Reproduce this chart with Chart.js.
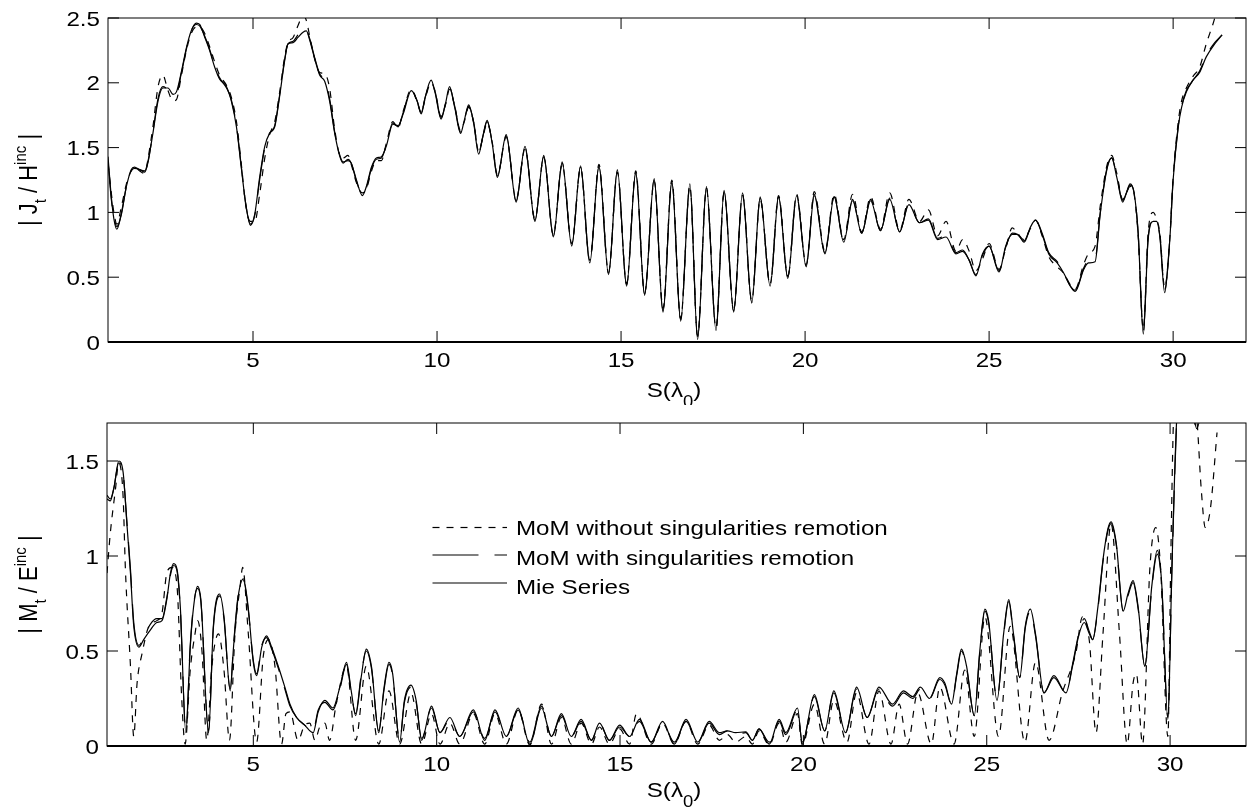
<!DOCTYPE html>
<html>
<head>
<meta charset="utf-8">
<script src="https://cdn.jsdelivr.net/npm/chart.js@4.4.1/dist/chart.umd.min.js"></script>
<style>
  body { margin: 0; background: #fff; }
  canvas { display: block; }
</style>
</head>
<body>
<canvas id="topChart" width="1250" height="405"></canvas>
<canvas id="botChart" width="1250" height="406"></canvas>
<script>
var SERIES = ["MoM without singularities remotion", "MoM with singularities remotion", "Mie Series"]
var X_TICKS = [5, 10, 15, 20, 25, 30]
var TOP_Y_TICKS = [0, 0.5, 1, 1.5, 2, 2.5]
var BOT_Y_TICKS = [0, 0.5, 1, 1.5]

// upper plot |Jt / Hinc|, all three curves share the same S samples
var topS = [
  1.06,1.15,1.22,1.30,1.42,1.56,1.69,1.78,1.92,2.06,
  2.15,2.28,2.42,2.55,2.69,2.83,2.92,3.05,3.19,3.32,
  3.46,3.55,3.69,3.82,3.96,4.09,4.28,4.41,4.55,4.68,
  4.80,4.93,5.05,5.18,5.32,5.45,5.59,5.72,5.86,5.95,
  6.09,6.22,6.36,6.45,6.54,6.68,6.81,6.95,7.08,7.22,
  7.36,7.45,7.58,7.67,7.81,7.97,8.08,8.22,8.35,8.49,
  8.62,8.80,8.94,9.08,9.30,9.46,9.57,9.68,9.84,9.95,
  10.11,10.23,10.34,10.48,10.64,10.74,10.86,11.00,11.13,11.24,
  11.36,11.50,11.64,11.88,12.15,12.39,12.66,12.90,13.16,13.40,
  13.66,13.90,14.15,14.40,14.66,14.90,15.15,15.40,15.64,15.90,
  16.14,16.38,16.62,16.87,17.08,17.32,17.58,17.80,18.06,18.30,
  18.55,18.78,19.05,19.28,19.53,19.77,20.03,20.25,20.54,20.79,
  21.05,21.29,21.54,21.78,22.05,22.30,22.57,22.82,23.11,23.35,
  23.60,23.83,24.10,24.28,24.46,24.64,24.82,25.00,25.27,25.45,
  25.63,25.77,25.95,26.13,26.26,26.44,26.62,26.85,27.03,27.21,
  27.34,27.57,27.70,27.88,28.02,28.20,28.33,28.47,28.63,28.73,
  28.83,28.94,29.05,29.19,29.32,29.46,29.55,29.64,29.77,29.91,
  30.00,30.14,30.23,30.36,30.54,30.72,30.90,31.13,31.33
]
var topMie = [
  1.43,1.12,0.95,0.87,0.99,1.20,1.33,1.35,1.33,1.32,
  1.40,1.61,1.86,1.96,1.96,1.91,1.93,2.08,2.27,2.40,
  2.46,2.45,2.35,2.25,2.12,2.03,1.97,1.86,1.66,1.35,
  1.07,0.90,0.99,1.27,1.51,1.61,1.66,1.89,2.17,2.30,
  2.31,2.35,2.39,2.40,2.33,2.18,2.06,2.01,1.86,1.61,
  1.43,1.38,1.41,1.38,1.25,1.13,1.20,1.35,1.42,1.43,
  1.51,1.68,1.67,1.76,1.94,1.86,1.76,1.89,2.02,1.92,
  1.72,1.84,1.97,1.81,1.61,1.71,1.83,1.68,1.45,1.58,
  1.71,1.53,1.27,1.60,1.08,1.51,0.93,1.44,0.81,1.39,
  0.74,1.36,0.61,1.36,0.52,1.33,0.43,1.31,0.36,1.26,
  0.23,1.24,0.16,1.22,0.02,1.20,0.09,1.17,0.23,1.15,
  0.30,1.12,0.43,1.12,0.49,1.13,0.58,1.13,0.68,1.12,
  0.77,1.09,0.84,1.09,0.86,1.10,0.85,1.06,0.92,0.94,
  0.79,0.81,0.68,0.70,0.63,0.51,0.68,0.74,0.54,0.74,
  0.83,0.83,0.77,0.89,0.94,0.83,0.68,0.61,0.53,0.43,
  0.39,0.56,0.61,0.62,0.99,1.33,1.42,1.27,1.08,1.15,
  1.22,1.15,0.84,0.06,0.79,0.93,0.93,0.81,0.38,0.79,
  1.25,1.66,1.81,1.93,2.02,2.08,2.20,2.30,2.37
]
var topWith = [
  1.40,1.10,0.97,0.89,0.98,1.20,1.32,1.34,1.33,1.31,
  1.39,1.62,1.88,1.97,1.95,1.92,1.92,2.07,2.26,2.40,
  2.45,2.44,2.36,2.26,2.13,2.04,1.96,1.87,1.67,1.36,
  1.07,0.91,0.98,1.25,1.50,1.61,1.67,1.90,2.18,2.30,
  2.32,2.37,2.42,2.41,2.34,2.19,2.07,2.02,1.88,1.62,
  1.44,1.39,1.40,1.38,1.24,1.14,1.19,1.34,1.41,1.42,
  1.52,1.69,1.66,1.77,1.95,1.86,1.77,1.89,2.01,1.93,
  1.73,1.84,1.96,1.82,1.62,1.71,1.82,1.69,1.46,1.58,
  1.70,1.54,1.28,1.59,1.09,1.50,0.94,1.43,0.82,1.38,
  0.75,1.35,0.62,1.35,0.53,1.32,0.44,1.30,0.37,1.25,
  0.24,1.23,0.17,1.21,0.04,1.19,0.10,1.16,0.24,1.14,
  0.31,1.11,0.44,1.12,0.50,1.13,0.59,1.14,0.69,1.12,
  0.78,1.10,0.84,1.10,0.86,1.11,0.85,1.07,0.92,0.95,
  0.80,0.82,0.69,0.71,0.63,0.52,0.67,0.74,0.55,0.73,
  0.84,0.83,0.78,0.89,0.94,0.84,0.69,0.62,0.53,0.43,
  0.40,0.57,0.63,0.64,1.00,1.34,1.42,1.28,1.09,1.15,
  1.21,1.15,0.84,0.08,0.80,0.94,0.93,0.82,0.40,0.80,
  1.26,1.67,1.82,1.94,2.02,2.09,2.21,2.31,2.37
]
var topWithout = [
  1.38,1.15,1.00,0.91,1.04,1.22,1.32,1.35,1.32,1.30,
  1.42,1.66,1.97,2.06,1.94,1.86,1.87,2.05,2.25,2.38,
  2.43,2.43,2.38,2.28,2.16,2.06,1.98,1.89,1.70,1.38,
  1.06,0.93,0.93,1.14,1.42,1.60,1.70,1.92,2.20,2.31,
  2.35,2.44,2.52,2.48,2.36,2.18,2.08,2.07,1.96,1.64,
  1.44,1.42,1.44,1.37,1.23,1.15,1.18,1.32,1.40,1.40,
  1.53,1.70,1.65,1.78,1.95,1.85,1.77,1.88,2.00,1.93,
  1.74,1.83,1.95,1.82,1.63,1.70,1.81,1.69,1.47,1.57,
  1.69,1.54,1.29,1.58,1.10,1.49,0.95,1.42,0.83,1.37,
  0.76,1.34,0.63,1.37,0.54,1.31,0.45,1.32,0.38,1.24,
  0.26,1.25,0.18,1.20,0.05,1.18,0.11,1.15,0.25,1.13,
  0.32,1.10,0.45,1.13,0.51,1.14,0.60,1.16,0.70,1.14,
  0.79,1.14,0.85,1.12,0.87,1.15,0.86,1.10,0.93,1.02,
  0.82,0.93,0.70,0.79,0.70,0.55,0.64,0.76,0.56,0.72,
  0.88,0.84,0.79,0.88,0.94,0.82,0.66,0.58,0.53,0.44,
  0.41,0.60,0.68,0.74,1.05,1.36,1.44,1.30,1.10,1.15,
  1.20,1.14,0.82,0.10,0.84,1.00,0.95,0.84,0.42,0.80,
  1.27,1.70,1.86,1.96,2.05,2.12,2.30,2.50,2.75
]

// lower plot |Mt / Einc|, Mie and "with" share botS
var botS = [
  1.01,1.10,1.20,1.33,1.45,1.56,1.65,1.74,1.88,2.01,
  2.19,2.37,2.51,2.64,2.74,2.83,2.92,3.01,3.16,3.28,
  3.37,3.48,3.57,3.78,3.91,4.08,4.20,4.37,4.46,4.59,
  4.73,4.86,5.00,5.09,5.23,5.36,5.50,5.68,5.86,6.00,
  6.18,6.40,6.63,6.77,6.95,7.17,7.36,7.54,7.67,7.79,
  7.94,8.08,8.22,8.42,8.56,8.70,8.80,8.99,9.12,9.30,
  9.44,9.59,9.86,10.09,10.36,10.63,11.00,11.31,11.59,11.90,
  12.22,12.54,12.86,13.13,13.40,13.67,13.94,14.22,14.44,14.71,
  14.99,15.26,15.53,15.85,16.16,16.48,16.80,17.12,17.43,17.71,
  17.93,18.15,18.43,18.61,18.79,19.07,19.34,19.52,19.84,19.97,
  20.30,20.58,20.83,21.15,21.45,21.74,22.06,22.43,22.73,22.98,
  23.19,23.44,23.72,23.86,24.04,24.18,24.31,24.45,24.66,24.81,
  24.95,25.05,25.28,25.46,25.60,25.73,25.90,26.05,26.19,26.33,
  26.56,26.83,27.16,27.34,27.52,27.66,27.80,27.89,28.03,28.17,
  28.30,28.39,28.53,28.72,28.85,28.99,29.13,29.31,29.50,29.65,
  29.77,29.94,30.05,30.18,30.35,30.55,30.73,30.95,31.30
]
var botMie = [
  1.32,1.30,1.36,1.50,1.44,1.15,0.91,0.63,0.52,0.56,
  0.61,0.65,0.66,0.77,0.91,0.96,0.93,0.73,0.07,0.52,
  0.73,0.84,0.77,0.07,0.63,0.80,0.68,0.29,0.52,0.79,
  0.88,0.73,0.44,0.37,0.52,0.58,0.52,0.42,0.31,0.22,
  0.15,0.11,0.07,0.18,0.24,0.20,0.31,0.44,0.29,0.16,
  0.36,0.51,0.42,0.07,0.30,0.44,0.38,0.02,0.24,0.32,
  0.24,0.03,0.21,0.07,0.15,0.05,0.19,0.03,0.19,0.05,
  0.20,0.01,0.20,0.05,0.17,0.05,0.14,0.03,0.12,0.03,
  0.11,0.05,0.14,0.02,0.13,0.01,0.14,0.02,0.13,0.07,
  0.08,0.07,0.075,0.03,0.09,0.01,0.14,0.07,0.20,0.01,
  0.27,0.08,0.29,0.07,0.31,0.15,0.31,0.22,0.29,0.26,
  0.31,0.25,0.36,0.33,0.22,0.38,0.51,0.42,0.16,0.50,
  0.72,0.66,0.24,0.59,0.77,0.59,0.36,0.63,0.72,0.59,
  0.28,0.36,0.28,0.42,0.59,0.65,0.59,0.56,0.73,0.98,
  1.14,1.18,1.07,0.71,0.80,0.87,0.73,0.42,0.84,1.03,
  0.86,0.14,0.94,1.72,2.00,1.85,1.67,1.90,2.20
]
var botWith = [
  1.30,1.29,1.36,1.49,1.43,1.16,0.93,0.65,0.53,0.57,
  0.64,0.67,0.67,0.78,0.90,0.95,0.92,0.72,0.08,0.53,
  0.74,0.83,0.76,0.08,0.62,0.79,0.67,0.30,0.53,0.80,
  0.87,0.72,0.45,0.38,0.53,0.57,0.51,0.41,0.30,0.21,
  0.15,0.11,0.08,0.19,0.23,0.19,0.30,0.43,0.28,0.17,
  0.37,0.50,0.41,0.08,0.29,0.43,0.37,0.03,0.23,0.31,
  0.23,0.04,0.20,0.07,0.14,0.05,0.18,0.04,0.18,0.05,
  0.19,0.02,0.21,0.05,0.16,0.05,0.13,0.03,0.12,0.03,
  0.10,0.05,0.13,0.02,0.12,0.02,0.13,0.02,0.12,0.06,
  0.08,0.06,0.07,0.03,0.09,0.02,0.13,0.06,0.19,0.02,
  0.26,0.08,0.28,0.07,0.30,0.15,0.30,0.21,0.28,0.25,
  0.30,0.25,0.35,0.32,0.22,0.37,0.50,0.41,0.16,0.49,
  0.71,0.65,0.25,0.58,0.76,0.58,0.36,0.62,0.71,0.58,
  0.28,0.37,0.28,0.43,0.60,0.67,0.60,0.56,0.72,0.97,
  1.13,1.17,1.06,0.71,0.79,0.86,0.72,0.42,0.83,1.01,
  0.85,0.15,0.93,1.70,2.00,1.85,1.67,1.90,2.20
]
// "without" curve has its own sampling (extra zero dips)
var botWoS = [
  1.01,1.10,1.24,1.33,1.45,1.51,1.65,1.74,1.83,1.97,
  2.15,2.37,2.51,2.64,2.78,2.92,3.05,3.14,3.28,3.41,
  3.48,3.60,3.73,3.87,4.05,4.20,4.35,4.50,4.64,4.71,
  4.86,5.09,5.27,5.41,5.59,5.77,5.89,6.00,6.22,6.40,
  6.54,6.68,6.81,6.95,7.08,7.26,7.54,7.79,8.08,8.42,
  8.70,8.99,9.30,9.59,9.86,10.09,10.36,10.63,11.00,11.31,
  11.59,11.90,12.22,12.54,12.86,13.13,13.40,13.67,13.94,14.22,
  14.44,14.71,14.99,15.26,15.45,15.85,16.16,16.48,16.80,17.12,
  17.43,17.71,17.93,18.15,18.43,18.61,18.79,19.07,19.34,19.52,
  19.84,19.97,20.30,20.58,20.83,21.19,21.45,21.79,22.06,22.39,
  22.61,22.84,23.12,23.49,23.72,24.11,24.40,24.66,24.95,25.32,
  25.64,26.04,26.33,26.70,27.06,27.43,27.61,27.80,27.98,28.17,
  28.39,28.62,28.83,28.99,29.08,29.25,29.45,29.61,29.74,29.94,
  30.02,30.10,30.40,30.73,30.85,30.96,31.10,31.28
]
var botWithout = [
  0.91,1.12,1.35,1.49,1.31,0.94,0.42,0.05,0.33,0.49,
  0.63,0.66,0.70,0.91,0.94,0.84,0.24,0.01,0.40,0.59,
  0.66,0.50,0.03,0.42,0.59,0.40,0.03,0.59,0.84,0.94,
  0.60,0.02,0.47,0.56,0.42,0.01,0.17,0.18,0.03,0.11,
  0.12,0.03,0.10,0.12,0.03,0.22,0.42,0.03,0.42,0.01,
  0.29,0.01,0.28,0.01,0.17,0.01,0.12,0.01,0.17,0.01,
  0.17,0.01,0.19,0.005,0.22,0.01,0.15,0.01,0.12,0.01,
  0.10,0.01,0.09,0.01,0.17,0.01,0.12,0.01,0.13,0.01,
  0.11,0.03,0.06,0.02,0.05,0.01,0.08,0.005,0.12,0.02,
  0.17,0.005,0.22,0.01,0.24,0.02,0.28,0.01,0.29,0.01,
  0.22,0.01,0.28,0.01,0.31,0.01,0.40,0.05,0.68,0.05,
  0.63,0.02,0.44,0.03,0.28,0.49,0.68,0.55,0.07,0.59,
  1.17,0.59,0.01,0.33,0.38,0.01,0.94,1.15,0.94,0.05,
  1.00,1.75,2.10,1.72,1.35,1.15,1.25,1.65
]

var STRETCH = 1.15
var FONT = "'Liberation Sans', Arial, sans-serif"

function setFont(ctx, size) {
  ctx.font = size + "px " + FONT
}

function label(ctx, str, x, y, align) {
  ctx.save()
  ctx.translate(x, y)
  ctx.scale(STRETCH, 1)
  ctx.textAlign = align
  ctx.textBaseline = "alphabetic"
  ctx.fillText(str, 0, 0)
  ctx.restore()
}

// text made of pieces [text, size, baseline shift] for sub/superscripts
function drawParts(ctx, parts, x, y, vertical) {
  ctx.save()
  ctx.translate(x, y)
  ctx.scale(STRETCH, 1)
  if (vertical) ctx.rotate(-Math.PI / 2)
  var total = 0
  parts.forEach(function(p) { setFont(ctx, p[1]); total += ctx.measureText(p[0]).width })
  var pos = -total / 2
  ctx.textAlign = "left"
  ctx.textBaseline = "alphabetic"
  parts.forEach(function(p) {
    setFont(ctx, p[1])
    ctx.fillText(p[0], pos, p[2])
    pos += ctx.measureText(p[0]).width
  })
  ctx.restore()
}

var matlabAxes = {
  id: "matlabAxes",
  afterDraw: function(chart, args, opts) {
    var ctx = chart.ctx
    var a = chart.chartArea
    var xs = chart.scales.x
    var ys = chart.scales.y
    ctx.save()
    ctx.strokeStyle = "#000"
    ctx.fillStyle = "#000"
    ctx.setLineDash([])
    ctx.lineWidth = 1
    ctx.strokeRect(a.left, a.top, a.right - a.left, a.bottom - a.top)
    ctx.lineWidth = 2
    ctx.beginPath()
    ctx.moveTo(a.left, a.bottom)
    ctx.lineTo(a.right, a.bottom)
    ctx.stroke()

    // inward ticks on every side
    ctx.lineWidth = 1
    ctx.beginPath()
    opts.xTicks.forEach(function(v) {
      var px = xs.getPixelForValue(v)
      ctx.moveTo(px, a.bottom); ctx.lineTo(px, a.bottom - 11)
      ctx.moveTo(px, a.top); ctx.lineTo(px, a.top + 11)
    })
    opts.yTicks.forEach(function(v) {
      var py = ys.getPixelForValue(v)
      ctx.moveTo(a.left, py); ctx.lineTo(a.left + 11, py)
      ctx.moveTo(a.right, py); ctx.lineTo(a.right - 11, py)
    })
    ctx.stroke()

    setFont(ctx, 21)
    opts.xTicks.forEach(function(v) {
      label(ctx, String(v), xs.getPixelForValue(v), a.bottom + 25, "center")
    })
    opts.yTicks.forEach(function(v) {
      label(ctx, String(v), a.left - 8, ys.getPixelForValue(v) + 7.5, "right")
    })

    drawParts(ctx, [["S(\u03bb", 21, 0], ["0", 16, 10], [")", 21, 0]], 674, a.bottom + opts.xTitleDy, false)
    drawParts(ctx, opts.yTitle, 37, (a.top + a.bottom) / 2, true)

    if (opts.legend) {
      var lg = opts.legend
      chart.data.datasets.forEach(function(ds, i) {
        ctx.lineWidth = 1.2
        ctx.setLineDash(ds.borderDash || [])
        ctx.beginPath()
        ctx.moveTo(lg.x1, lg.lineY[i])
        ctx.lineTo(lg.x2, lg.lineY[i])
        ctx.stroke()
        ctx.setLineDash([])
        setFont(ctx, 21)
        label(ctx, ds.label, lg.tx, lg.textY[i], "left")
      })
    }
    ctx.restore()
  }
}

function series(name, xs, ys, dash) {
  return {
    label: name,
    data: xs.map(function(x, i) { return { x: x, y: ys[i] } }),
    borderColor: "#000",
    borderWidth: 1.2,
    borderDash: dash,
    pointRadius: 0,
    fill: false,
    tension: 0.4,
    cubicInterpolationMode: "monotone"
  }
}

function buildChart(id, datasets, xMin, xMax, yMax, padding, axisOpts) {
  return new Chart(document.getElementById(id), {
    type: "line",
    data: { datasets: datasets },
    options: {
      responsive: false,
      animation: false,
      devicePixelRatio: 1,
      layout: { padding: padding },
      plugins: {
        legend: { display: false },
        tooltip: { enabled: false },
        matlabAxes: axisOpts
      },
      scales: {
        x: { type: "linear", min: xMin, max: xMax, display: false },
        y: { type: "linear", min: 0, max: yMax, display: false }
      }
    },
    plugins: [matlabAxes]
  })
}

buildChart("topChart", [
  series(SERIES[0], topS, topWithout, [7, 7]),
  series(SERIES[1], topS, topWith, [46, 16]),
  series(SERIES[2], topS, topMie, [])
], 1.06, 31.98, 2.5, { left: 108, right: 4, top: 18, bottom: 63 }, {
  xTicks: X_TICKS,
  yTicks: TOP_Y_TICKS,
  xTitleDy: 54.7,
  yTitle: [["| J", 22, 0], ["t", 15, 8], [" / H", 22, 0], ["inc", 15, -10], [" |", 22, 0]]
})

buildChart("botChart", [
  series(SERIES[0], botWoS, botWithout, [7, 7]),
  series(SERIES[1], botS, botWith, [46, 16]),
  series(SERIES[2], botS, botMie, [])
], 1.01, 32.07, 1.7, { left: 107, right: 4, top: 18, bottom: 65 }, {
  xTicks: X_TICKS,
  yTicks: BOT_Y_TICKS,
  xTitleDy: 50.7,
  yTitle: [["| M", 22, 0], ["t", 15, 8], [" / E", 22, 0], ["inc", 15, -10], [" |", 22, 0]],
  legend: { x1: 432.5, x2: 507, tx: 516, lineY: [122.5, 150, 178], textY: [130, 160, 189] }
})
</script>
</body>
</html>
